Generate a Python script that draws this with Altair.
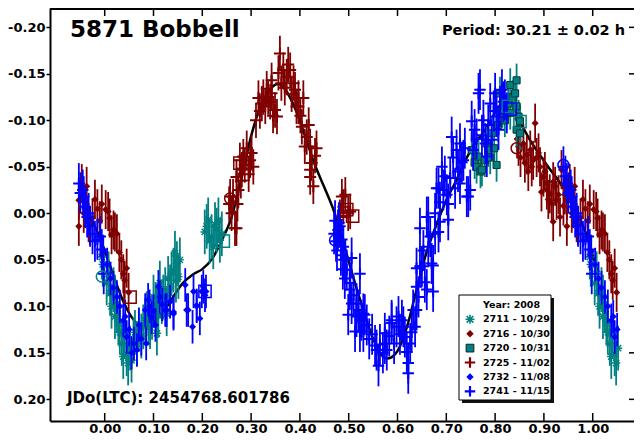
import altair as alt
import pandas as pd

# ---------------- data ----------------
SERIES = ["2711", "2716", "2720", "2725", "2732", "2741"]
LEGEND_LABELS = ["2711 - 10/29", "2716 - 10/30", "2720 - 10/31",
                 "2725 - 11/02", "2732 - 11/08", "2741 - 11/15"]
LEGEND_TITLE = "Year: 2008"
OBJECT_TITLE = "5871 Bobbell"
PERIOD_TEXT = "Period: 30.21 \u00b1 0.02 h"
EPOCH_TEXT = "JDo(LTC): 2454768.601786"
X_TICKS = [0.0, 0.1, 0.2, 0.3, 0.4, 0.5, 0.6, 0.7, 0.8, 0.9, 1.0]
Y_TICKS = [-0.20, -0.15, -0.10, -0.05, 0.0, 0.05, 0.10, 0.15, 0.20]
X_DOMAIN = [-0.1121, 1.0846]
Y_DOMAIN = [-0.2208, 0.2233]
WRAP = 0.055  # phases this close to 0 / 1 are also shown one cycle over

ERR = {"2711": 0.024, "2716": 0.021, "2720": 0.018,
       "2725": 0.019, "2732": 0.018, "2741": 0.022}

OBS_2711 = [
    (0.994, 0.047), (0.996, 0.055), (0.004, 0.075), (0.008, 0.065), (0.011, 0.086),
    (0.014, 0.100), (0.018, 0.082), (0.021, 0.111), (0.021, 0.090), (0.025, 0.105),
    (0.028, 0.118), (0.031, 0.128), (0.035, 0.140), (0.038, 0.154), (0.041, 0.132),
    (0.045, 0.151), (0.048, 0.161), (0.052, 0.145), (0.055, 0.158), (0.059, 0.136),
    (0.062, 0.128), (0.066, 0.140), (0.070, 0.125), (0.075, 0.132), (0.079, 0.122),
    (0.083, 0.115), (0.086, 0.108), (0.090, 0.118), (0.093, 0.122), (0.097, 0.112),
    (0.100, 0.090), (0.104, 0.098), (0.107, 0.100), (0.107, 0.129), (0.110, 0.110),
    (0.113, 0.075), (0.117, 0.095), (0.120, 0.090), (0.124, 0.082), (0.127, 0.108),
    (0.130, 0.070), (0.134, 0.079), (0.137, 0.065), (0.141, 0.061), (0.144, 0.043),
    (0.146, 0.072), (0.148, 0.054), (0.151, 0.068), (0.154, 0.050),
    (0.205, 0.020), (0.209, 0.014), (0.212, 0.007), (0.215, 0.030), (0.219, 0.025),
    (0.2225, 0.036), (0.226, 0.012), (0.2295, 0.018), (0.233, 0.007), (0.236, 0.029),
    (0.240, 0.022),
]
OBS_2716 = [
    (0.002, -0.004), (0.007, -0.002), (0.010, 0.005), (0.014, 0.023), (0.018, 0.018),
    (0.021, 0.020), (0.025, 0.022), (0.030, 0.042), (0.034, 0.050), (0.038, 0.065),
    (0.041, 0.072), (0.045, 0.059), (0.049, 0.085),
    (0.845, -0.080), (0.848, -0.072), (0.852, -0.060), (0.858, -0.075), (0.861, -0.054),
    (0.865, -0.063), (0.868, -0.045), (0.872, -0.068), (0.875, -0.050), (0.878, -0.057),
    (0.882, -0.097), (0.885, -0.060), (0.889, -0.065), (0.892, -0.050), (0.895, -0.023),
    (0.899, -0.039), (0.902, -0.045), (0.906, -0.032), (0.906, -0.025), (0.909, -0.015),
    (0.912, -0.021), (0.916, -0.011), (0.919, -0.034), (0.919, 0.009), (0.923, -0.029),
    (0.926, -0.014), (0.930, -0.020), (0.933, 0.004), (0.936, -0.047), (0.940, -0.008),
    (0.943, -0.020), (0.947, -0.014), (0.947, 0.014), (0.953, -0.032), (0.957, 0.000),
    (0.960, -0.005), (0.963, -0.029), (0.967, 0.010), (0.970, 0.013), (0.975, 0.005),
    (0.980, -0.015), (0.985, -0.005), (0.990, 0.008), (0.994, -0.010),
]
OBS_2720 = [
    (0.752, -0.068), (0.758, -0.055), (0.762, -0.050), (0.766, -0.061), (0.770, -0.045),
    (0.773, -0.047), (0.779, -0.057), (0.783, -0.075), (0.786, -0.068), (0.790, -0.060),
    (0.793, -0.086), (0.798, -0.070), (0.803, -0.052), (0.806, -0.095), (0.810, -0.129),
    (0.815, -0.110), (0.820, -0.100), (0.827, -0.118), (0.831, -0.138), (0.831, -0.108),
    (0.836, -0.125), (0.841, -0.129), (0.844, -0.143), (0.844, -0.115), (0.844, -0.090),
    (0.848, -0.104), (0.851, -0.099), (0.851, -0.086),
]
OBS_2725 = [
    (0.255, -0.010), (0.257, -0.018), (0.260, 0.000), (0.263, -0.018), (0.267, 0.016),
    (0.270, -0.039), (0.270, 0.016), (0.272, -0.010), (0.274, -0.025), (0.277, -0.057),
    (0.279, -0.035), (0.281, -0.047), (0.284, -0.061), (0.287, -0.052), (0.291, -0.070),
    (0.295, -0.042), (0.298, -0.057), (0.301, -0.065), (0.3045, -0.050), (0.310, -0.100),
    (0.315, -0.124), (0.318, -0.110), (0.322, -0.118), (0.325, -0.125), (0.329, -0.115),
    (0.332, -0.134), (0.335, -0.125), (0.339, -0.120), (0.342, -0.129), (0.342, -0.143),
    (0.345, -0.105), (0.349, -0.111), (0.353, -0.104), (0.356, -0.151), (0.359, -0.172),
    (0.362, -0.140), (0.366, -0.154), (0.369, -0.135), (0.373, -0.147), (0.376, -0.160),
    (0.380, -0.154), (0.383, -0.128), (0.387, -0.140), (0.390, -0.133), (0.393, -0.115),
    (0.397, -0.124), (0.397, -0.115), (0.401, -0.105), (0.404, -0.093), (0.407, -0.124),
    (0.410, -0.072), (0.414, -0.082), (0.418, -0.095), (0.421, -0.072), (0.421, -0.047),
    (0.421, -0.039), (0.424, -0.054), (0.4275, -0.029), (0.431, -0.062), (0.434, -0.070),
    (0.482, 0.004), (0.486, -0.018), (0.489, -0.007), (0.493, -0.020), (0.499, 0.000),
    (0.503, -0.002),
]
OBS_2732 = [
    (0.997, 0.041), (0.005, 0.055), (0.012, 0.070), (0.018, 0.080), (0.025, 0.090),
    (0.031, 0.100), (0.038, 0.115), (0.042, 0.111), (0.045, 0.133), (0.050, 0.125),
    (0.055, 0.150), (0.060, 0.140), (0.066, 0.147), (0.070, 0.120), (0.075, 0.135),
    (0.083, 0.104), (0.085, 0.140), (0.089, 0.093), (0.092, 0.100), (0.096, 0.112),
    (0.100, 0.105), (0.104, 0.120), (0.110, 0.079), (0.113, 0.090), (0.118, 0.098),
    (0.124, 0.104), (0.127, 0.104), (0.134, 0.095), (0.141, 0.106), (0.141, 0.108),
    (0.165, 0.077), (0.168, 0.104), (0.171, 0.104), (0.180, 0.122), (0.182, 0.084),
    (0.1885, 0.100), (0.1885, 0.099), (0.195, 0.113), (0.199, 0.084), (0.202, 0.079),
    (0.2055, 0.088), (0.2075, 0.084),
]
OBS_2741 = [
    (0.470, 0.022), (0.472, 0.008), (0.474, 0.030), (0.476, 0.040), (0.478, 0.018),
    (0.480, 0.010), (0.482, 0.014), (0.484, 0.045), (0.486, 0.028), (0.488, 0.060),
    (0.489, 0.036), (0.490, 0.050), (0.492, 0.070), (0.493, 0.050), (0.496, 0.061),
    (0.499, 0.109), (0.502, 0.082), (0.503, 0.075), (0.506, 0.097), (0.506, 0.048),
    (0.510, 0.088), (0.513, 0.127), (0.516, 0.111), (0.516, 0.097), (0.520, 0.104),
    (0.523, 0.065), (0.523, 0.127), (0.526, 0.115), (0.530, 0.108), (0.530, 0.127),
    (0.533, 0.109), (0.537, 0.120), (0.542, 0.135), (0.548, 0.130), (0.554, 0.142),
    (0.557, 0.147), (0.561, 0.164), (0.564, 0.141), (0.570, 0.150), (0.574, 0.129),
    (0.574, 0.140), (0.578, 0.147), (0.583, 0.132), (0.588, 0.118), (0.588, 0.115),
    (0.593, 0.140), (0.598, 0.122), (0.602, 0.111), (0.605, 0.130), (0.609, 0.115),
    (0.612, 0.122), (0.615, 0.133), (0.619, 0.149), (0.622, 0.161), (0.622, 0.172),
    (0.626, 0.140), (0.629, 0.128), (0.632, 0.104), (0.636, 0.122), (0.639, 0.079),
    (0.639, 0.059), (0.639, 0.104), (0.643, 0.090), (0.646, 0.057), (0.646, 0.016),
    (0.650, 0.057), (0.653, 0.040), (0.656, 0.074), (0.660, 0.082), (0.660, 0.004),
    (0.663, 0.036), (0.663, 0.004), (0.667, 0.025), (0.670, 0.054), (0.673, 0.084),
    (0.673, 0.056), (0.677, 0.022), (0.677, 0.000), (0.680, -0.027), (0.684, -0.027),
    (0.684, 0.020), (0.687, 0.009), (0.687, -0.012), (0.691, -0.050), (0.694, -0.025),
    (0.697, -0.040), (0.701, -0.020), (0.704, 0.007), (0.704, -0.010), (0.708, -0.038),
    (0.711, -0.082), (0.714, -0.060), (0.718, -0.027), (0.721, -0.068), (0.724, -0.045),
    (0.728, -0.032), (0.728, -0.075), (0.732, -0.055), (0.735, -0.057), (0.738, -0.070),
    (0.742, -0.018), (0.745, -0.018), (0.749, -0.025), (0.752, -0.099), (0.755, -0.068),
    (0.758, -0.090), (0.762, -0.080), (0.766, -0.129), (0.769, -0.133), (0.773, -0.084),
    (0.776, -0.100), (0.780, -0.075), (0.783, -0.061), (0.786, -0.095), (0.790, -0.118),
    (0.793, -0.079), (0.797, -0.110), (0.800, -0.129), (0.803, -0.104), (0.807, -0.090),
    (0.810, -0.115), (0.814, -0.133), (0.817, -0.120), (0.820, -0.122), (0.824, -0.108),
    (0.940, -0.050), (0.944, -0.040), (0.947, -0.032), (0.950, -0.022), (0.955, -0.025),
    (0.957, -0.018), (0.960, -0.007), (0.964, 0.004), (0.967, 0.000), (0.970, 0.014),
    (0.975, 0.022), (0.980, 0.030), (0.985, 0.028), (0.991, 0.025), (0.994, 0.039),
    (0.998, 0.065),
]

FIT_PHASE = [-0.030, -0.015, 0.000, 0.020, 0.040, 0.060, 0.080, 0.100, 0.120, 0.140,
             0.160, 0.180, 0.200, 0.220, 0.240, 0.260, 0.280, 0.300, 0.320, 0.340,
             0.355, 0.370, 0.390, 0.410, 0.430, 0.450, 0.470, 0.490, 0.510, 0.530,
             0.550, 0.565, 0.580, 0.600, 0.620, 0.640, 0.660, 0.680, 0.700, 0.720,
             0.740, 0.760, 0.780, 0.800, 0.820, 0.835, 0.850, 0.870, 0.890, 0.910,
             0.930, 0.950, 0.970, 0.985, 1.000, 1.010]
FIT_MAG = [0.004, 0.020, 0.040, 0.070, 0.097, 0.115, 0.122, 0.117, 0.106, 0.090,
           0.075, 0.066, 0.060, 0.049, 0.029, 0.004, -0.037, -0.083, -0.116, -0.134,
           -0.139, -0.133, -0.113, -0.084, -0.053, -0.028, -0.002, 0.033, 0.070, 0.104,
           0.135, 0.151, 0.156, 0.148, 0.121, 0.080, 0.041, 0.012, -0.014, -0.035,
           -0.058, -0.076, -0.090, -0.108, -0.121, -0.118, -0.100, -0.080, -0.064, -0.049,
           -0.035, -0.018, 0.002, 0.020, 0.045, 0.062]

OPEN_CIRCLES = [(-0.006, 0.068, "2711"), (0.257, -0.016, "2725"), (0.472, 0.029, "2741"),
                (0.844, -0.070, "2716"), (0.940, -0.052, "2741")]
OPEN_SQUARES = [(0.052, 0.090, "2716"), (0.2055, 0.084, "2732"), (0.243, 0.030, "2711"),
                (0.496, -0.004, "2725"), (0.508, 0.003, "2725"), (0.277, -0.054, "2725"),
                (0.283, -0.042, "2725"), (0.851, -0.0985, "2720"), (0.827, -0.115, "2720"),
                (0.831, -0.112, "2741")]

# ---------------- styles ----------------
TEAL, DRED, BLUE = "#008080", "#800000", "#0000ff"
COLORS = {"2711": TEAL, "2716": DRED, "2720": TEAL, "2725": DRED, "2732": BLUE, "2741": BLUE}
PLUS = "M-1,0L1,0M0,-1L0,1"
ASTER = "M-1,0L1,0M0,-1L0,1M-0.75,-0.75L0.75,0.75M-0.75,0.75L0.75,-0.75"
MARK = {
    "2711": dict(shape=ASTER, filled=False, color=TEAL, size=70, strokeWidth=1.4),
    "2716": dict(shape="diamond", filled=True, color=DRED, size=50),
    "2720": dict(shape="square", filled=True, fill=TEAL, stroke="#003838", size=50, strokeWidth=1),
    "2725": dict(shape=PLUS, filled=False, color=DRED, size=144, strokeWidth=2),
    "2732": dict(shape="diamond", filled=True, color=BLUE, size=50),
    "2741": dict(shape=PLUS, filled=False, color=BLUE, size=130, strokeWidth=2),
}
LEGEND_MARK = {
    "2711": dict(shape=ASTER, filled=False, color=TEAL, size=80, strokeWidth=1.6),
    "2716": dict(shape="diamond", filled=True, color=DRED, size=55),
    "2720": dict(shape="square", filled=True, fill=TEAL, stroke="#002828", size=60, strokeWidth=1),
    "2725": dict(shape=PLUS, filled=False, color=DRED, size=110, strokeWidth=2.2),
    "2732": dict(shape="diamond", filled=True, color=BLUE, size=55),
    "2741": dict(shape=PLUS, filled=False, color=BLUE, size=110, strokeWidth=2.2),
}
W, H = 584, 413
FONT = "DejaVu Sans"

# ---------------- tables ----------------
OBS = dict(zip(SERIES, [OBS_2711, OBS_2716, OBS_2720, OBS_2725, OBS_2732, OBS_2741]))
frames = {}
for s in SERIES:
    rows = []
    for p, m in OBS[s]:
        shown = [p]
        if p < WRAP:
            shown.append(p + 1)
        if p > 1 - WRAP:
            shown.append(p - 1)
        for q in shown:
            rows.append({"phase": q, "mag": m, "lo": m - ERR[s], "hi": m + ERR[s]})
    frames[s] = pd.DataFrame(rows)

fit_df = pd.DataFrame({"phase": FIT_PHASE, "mag": FIT_MAG})
circ_df = pd.DataFrame([{"phase": p, "mag": m, "col": COLORS[s]} for p, m, s in OPEN_CIRCLES])
sq_df = pd.DataFrame([{"phase": p, "mag": m, "col": COLORS[s]} for p, m, s in OPEN_SQUARES])
xt_df = pd.DataFrame({"phase": X_TICKS})
yt_df = pd.DataFrame({"mag": Y_TICKS})
one = pd.DataFrame({"k": [0]})

xscale = alt.Scale(domain=X_DOMAIN, nice=False, zero=False)
yscale = alt.Scale(domain=Y_DOMAIN, nice=False, zero=False, reverse=True)
xaxis = alt.Axis(values=X_TICKS, labelExpr="format(datum.value, '.2f')", ticks=False,
                 grid=False, title=None, domainColor="black", domainWidth=2,
                 labelPadding=1, labelFlush=False, labelOverlap=False)
yaxis = alt.Axis(values=Y_TICKS,
                 labelExpr="(datum.value < 0 ? '-' : '') + format(abs(datum.value), '.2f')",
                 tickSize=4, tickWidth=1.5, tickColor="black", grid=False, title=None,
                 domainColor="black", domainWidth=2, labelPadding=1,
                 labelFlush=False, labelOverlap=False)

X = alt.X("phase:Q", scale=xscale, axis=xaxis)
Y = alt.Y("mag:Q", scale=yscale, axis=yaxis)

layers = []
layers.append(alt.Chart(fit_df).mark_line(color="black", strokeWidth=2.5,
                                          interpolate="monotone").encode(x=X, y=Y))
for s in SERIES:
    d = frames[s]
    layers.append(alt.Chart(d).mark_rule(color=COLORS[s], strokeWidth=1.8).encode(
        x=X, y=alt.Y("lo:Q", scale=yscale, axis=yaxis), y2="hi:Q"))
    layers.append(alt.Chart(d).mark_point(opacity=1, **MARK[s]).encode(x=X, y=Y))

layers.append(alt.Chart(circ_df).mark_point(shape="circle", filled=False, size=120,
                                            strokeWidth=1.5, opacity=1).encode(
    x=X, y=Y, color=alt.Color("col:N", scale=None)))
layers.append(alt.Chart(sq_df).mark_point(shape="square", filled=False, size=150,
                                          strokeWidth=1.5, opacity=1).encode(
    x=X, y=Y, color=alt.Color("col:N", scale=None)))

# frame: top border and inward ticks
layers.append(alt.Chart(one).mark_rule(color="black", strokeWidth=2).encode(
    x=alt.value(0), x2=alt.value(W), y=alt.value(1)))
layers.append(alt.Chart(xt_df).mark_rule(color="black", strokeWidth=1.5).encode(
    x=X, y=alt.value(0), y2=alt.value(8)))
layers.append(alt.Chart(xt_df).mark_rule(color="black", strokeWidth=1.5).encode(
    x=X, y=alt.value(H - 8), y2=alt.value(H)))
layers.append(alt.Chart(yt_df).mark_rule(color="black", strokeWidth=1.5).encode(
    y=Y, x=alt.value(W - 5), x2=alt.value(W)))

# texts
layers.append(alt.Chart(one).mark_text(text=OBJECT_TITLE, align="left", baseline="alphabetic",
                                       font=FONT, fontWeight="bold", fontSize=23,
                                       color="black").encode(x=alt.value(20), y=alt.value(29)))
layers.append(alt.Chart(one).mark_text(text=PERIOD_TEXT, align="right", baseline="alphabetic",
                                       font=FONT, fontWeight="bold", fontSize=14.5,
                                       color="black").encode(x=alt.value(575), y=alt.value(27)))
layers.append(alt.Chart(one).mark_text(text=EPOCH_TEXT, align="left", baseline="alphabetic",
                                       font=FONT, fontWeight="bold", fontSize=15,
                                       color="black").encode(x=alt.value(17), y=alt.value(395)))

# legend box
LX0, LX1, LY0, LY1 = 409, 501, 287, 392
layers.append(alt.Chart(one).mark_rect(color="#111111").encode(
    x=alt.value(LX0 + 3), x2=alt.value(LX1 + 3), y=alt.value(LY0 + 3), y2=alt.value(LY1 + 3)))
layers.append(alt.Chart(one).mark_rect(fill="white", stroke="black", strokeWidth=1).encode(
    x=alt.value(LX0), x2=alt.value(LX1), y=alt.value(LY0), y2=alt.value(LY1)))
layers.append(alt.Chart(one).mark_text(text=LEGEND_TITLE, align="left", baseline="alphabetic",
                                       font=FONT, fontWeight="bold", fontSize=9.5,
                                       color="black").encode(x=alt.value(433), y=alt.value(300)))
for i, (s, lab) in enumerate(zip(SERIES, LEGEND_LABELS)):
    ry = 311.3 + i * 14.4
    layers.append(alt.Chart(one).mark_point(opacity=1, **LEGEND_MARK[s]).encode(
        x=alt.value(420), y=alt.value(ry)))
    layers.append(alt.Chart(one).mark_text(text=lab, align="left", baseline="middle",
                                           font=FONT, fontWeight="bold", fontSize=9.5,
                                           color="black").encode(x=alt.value(433), y=alt.value(ry)))

chart = alt.layer(*layers).properties(
    width=W, height=H,
    autosize=alt.AutoSizeParams(type="none"),
    padding={"left": 42, "top": 0, "right": 0, "bottom": 16},
).configure_view(stroke=None).configure_axis(
    labelFont=FONT, labelFontWeight="bold", labelFontSize=13, labelColor="black",
)

chart.save("out.html", embed_options={"renderer": "svg", "actions": False})
